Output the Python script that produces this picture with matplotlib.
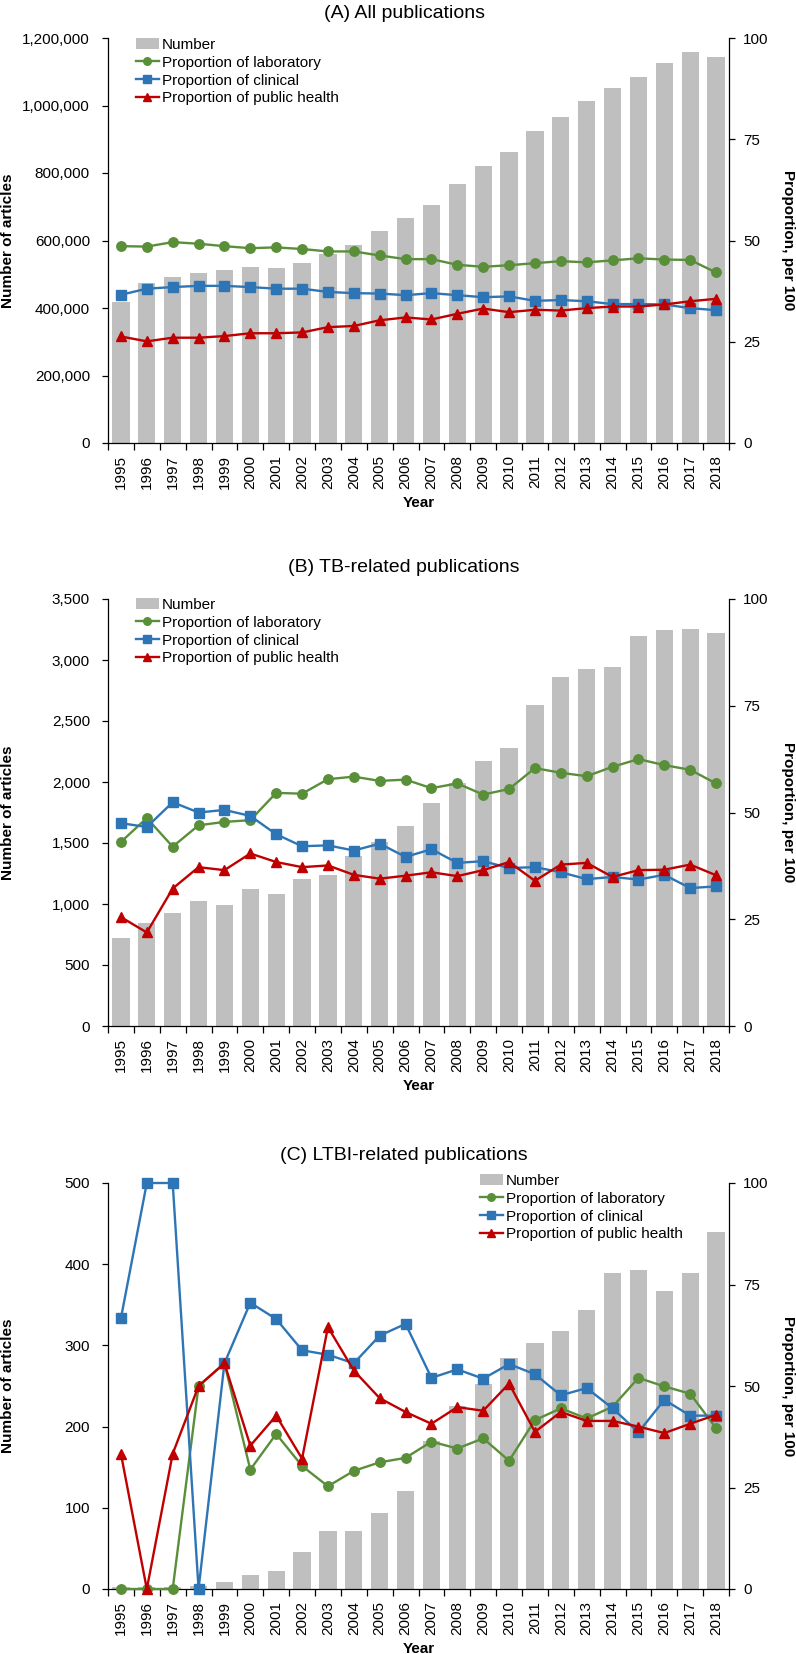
import matplotlib
matplotlib.use("Agg")
import matplotlib.pyplot as plt
from matplotlib.ticker import FuncFormatter
import numpy as np

plt.rcParams['font.family'] = ['Liberation Sans', 'DejaVu Sans']

years = list(range(1995, 2019))

# (A) All publications
a_number = [417000, 475000, 492000, 504000, 512000, 522000, 520000, 533000,
            561000, 588000, 629000, 667000, 706000, 767000, 820000, 863000,
            924000, 966000, 1013000, 1051000, 1084000, 1125000, 1158000, 1144000]
a_lab = [48.6, 48.5, 49.6, 49.2, 48.6, 48.1, 48.3, 47.9, 47.3, 47.3, 46.3, 45.4,
         45.4, 44.0, 43.5, 43.9, 44.4, 44.9, 44.6, 45.1, 45.6, 45.3, 45.2, 42.1]
a_cli = [36.6, 38.1, 38.5, 38.8, 38.8, 38.5, 38.1, 38.1, 37.3, 37.0, 36.9, 36.5,
         37.0, 36.5, 36.0, 36.2, 35.1, 35.3, 35.0, 34.3, 34.3, 34.2, 33.3, 32.8]
a_pub = [26.3, 25.1, 26.0, 26.0, 26.4, 27.1, 27.1, 27.3, 28.6, 28.9, 30.3, 31.0,
         30.5, 31.9, 33.2, 32.3, 32.9, 32.7, 33.3, 33.7, 33.7, 34.2, 35.0, 35.6]

# (B) TB-related publications
b_number = [721, 844, 926, 1027, 989, 1123, 1079, 1205, 1238, 1396, 1510, 1637,
            1828, 1995, 2175, 2281, 2628, 2860, 2923, 2945, 3194, 3246, 3251, 3221]
b_lab = [43.1, 48.7, 42.0, 47.0, 47.8, 48.2, 54.6, 54.4, 57.8, 58.4, 57.4, 57.7,
         55.7, 56.8, 54.2, 55.5, 60.4, 59.3, 58.5, 60.7, 62.5, 61.1, 60.0, 56.8]
b_cli = [47.5, 46.6, 52.4, 50.0, 50.6, 49.2, 44.9, 42.1, 42.3, 41.1, 42.7, 39.6,
         41.4, 38.2, 38.6, 37.0, 37.2, 36.0, 34.4, 34.9, 34.3, 35.4, 32.3, 32.7]
b_pub = [25.5, 21.9, 32.2, 37.2, 36.5, 40.4, 38.4, 37.2, 37.6, 35.4, 34.5, 35.2,
         36.0, 35.1, 36.5, 38.4, 34.0, 37.8, 38.2, 34.9, 36.5, 36.6, 37.8, 35.3]

# (C) LTBI-related publications
c_number = [3, 3, 2, 4, 9, 17, 22, 46, 71, 72, 93, 121,
            182, 225, 253, 285, 303, 318, 344, 389, 393, 367, 389, 440]
c_lab = [0, 0, 0, 50.0, 55.6, 29.4, 38.2, 30.3, 25.3, 29.1, 31.2, 32.3,
         36.3, 34.6, 37.1, 31.6, 41.6, 44.5, 42.0, 44.9, 52.0, 49.9, 48.1, 39.6]
c_cli = [66.7, 100, 100, 0, 55.6, 70.5, 66.5, 58.8, 57.7, 55.6, 62.4, 65.3,
         52.0, 54.1, 51.8, 55.4, 52.9, 47.7, 49.5, 44.5, 38.6, 46.6, 42.7, 42.7]
c_pub = [33.3, 0, 33.3, 50.0, 55.6, 35.3, 42.7, 32.1, 64.5, 53.8, 47.0, 43.6,
         40.7, 44.8, 43.9, 50.6, 38.7, 43.6, 41.4, 41.4, 40.0, 38.4, 40.7, 42.9]

titles = ["(A) All publications", "(B) TB-related publications",
          "(C) LTBI-related publications"]

BAR = "#BFBFBF"
GREEN = "#5A8F3A"
BLUE = "#2E75B6"
RED = "#C00000"

W, H = 796, 1654
fig = plt.figure(figsize=(W / 100, H / 100), dpi=100)

# pixel layout: axes top/bottom, title y, legend anchor (x, y), y-axis max and step
panels = [
    dict(num=a_number, lab=a_lab, cli=a_cli, pub=a_pub, top=38, bottom=443,
         title_y=13, leg=(136, 38), ymax=1200000, step=200000),
    dict(num=b_number, lab=b_lab, cli=b_cli, pub=b_pub, top=599, bottom=1026,
         title_y=567, leg=(136, 598), ymax=3500, step=500),
    dict(num=c_number, lab=c_lab, cli=c_cli, pub=c_pub, top=1183, bottom=1589,
         title_y=1155, leg=(480, 1174), ymax=500, step=100),
]

x = np.arange(len(years))
left, right = 108, 729

for title, p in zip(titles, panels):
    ax = fig.add_axes([left / W, 1 - p["bottom"] / H,
                       (right - left) / W, (p["bottom"] - p["top"]) / H])
    bars = ax.bar(x, p["num"], width=0.667, color=BAR, label="Number", zorder=1)
    ax.set_xlim(-0.5, len(years) - 0.5)
    ax.set_ylim(0, p["ymax"])
    ax.set_yticks(np.arange(0, p["ymax"] + 1, p["step"]))
    ax.yaxis.set_major_formatter(FuncFormatter(lambda v, pos: f"{int(v):,}"))
    ax.set_xticks(x)
    ax.set_xticklabels([str(y) for y in years], rotation=90)
    ax.set_xticks(np.arange(-0.5, len(years)), minor=True)
    ax.tick_params(axis="x", which="major", length=0, pad=8.5, labelsize=11)
    ax.tick_params(axis="x", which="minor", length=5, width=0.9, direction="out")
    ax.tick_params(axis="y", length=4, width=0.9, pad=9, labelsize=11)
    ax.spines["top"].set_visible(False)
    ax.spines["right"].set_visible(False)
    for s in ("left", "bottom"):
        ax.spines[s].set_linewidth(0.9)

    ax2 = ax.twinx()
    ax2.set_ylim(0, 100)
    ax2.set_yticks([0, 25, 50, 75, 100])
    ax2.tick_params(axis="y", length=4, width=0.9, pad=6, labelsize=11)
    ax2.spines["top"].set_visible(False)
    ax2.spines["left"].set_visible(False)
    ax2.spines["bottom"].set_visible(False)
    ax2.spines["right"].set_linewidth(0.9)

    l1, = ax2.plot(x, p["lab"], color=GREEN, marker="o", markersize=6.8, lw=1.7,
                   label="Proportion of laboratory", clip_on=False)
    l2, = ax2.plot(x, p["cli"], color=BLUE, marker="s", markersize=7.2, lw=1.7,
                   label="Proportion of clinical", clip_on=False)
    l3, = ax2.plot(x, p["pub"], color=RED, marker="^", markersize=7.8, lw=1.7,
                   label="Proportion of public health", clip_on=False)

    ax2.legend([bars, l1, l2, l3],
               ["Number", "Proportion of laboratory", "Proportion of clinical",
                "Proportion of public health"],
               loc="upper left",
               bbox_to_anchor=(p["leg"][0] / W, 1 - p["leg"][1] / H),
               bbox_transform=fig.transFigure,
               frameon=False, fontsize=11, borderpad=0, borderaxespad=0,
               handlelength=1.5, handletextpad=0.2, labelspacing=0.25,
               markerscale=0.8)

    fig.text(404 / W, 1 - p["title_y"] / H, title, ha="center", va="center",
             fontsize=14)
    mid = 1 - (p["top"] + p["bottom"]) / 2 / H
    fig.text(8 / W, mid, "Number of articles", rotation=90, ha="center",
             va="center", fontsize=11, fontweight="bold")
    fig.text(788 / W, mid, "Proportion, per 100", rotation=270, ha="center",
             va="center", fontsize=11, fontweight="bold")
    fig.text((left + right) / 2 / W, 1 - (p["bottom"] + 60) / H, "Year",
             ha="center", va="center", fontsize=11, fontweight="bold")

fig.savefig("out.png", dpi=100)
